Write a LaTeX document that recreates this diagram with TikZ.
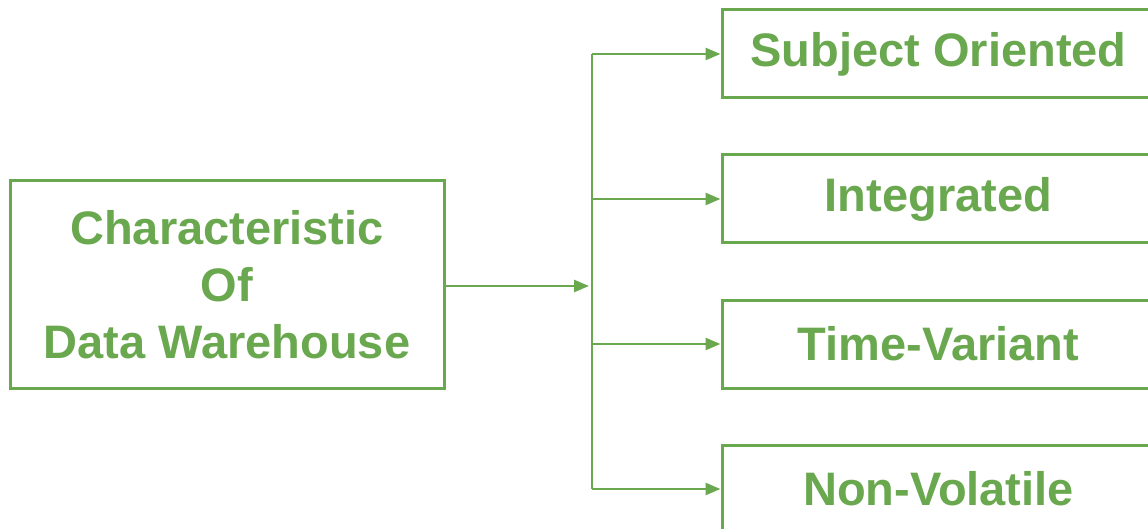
\documentclass[tikz,border=0pt]{standalone}
\usepackage{fontspec}
\setmainfont{Liberation Sans}
\usetikzlibrary{arrows.meta}
\definecolor{leafgreen}{HTML}{6AA84F}
\begin{document}
\begin{tikzpicture}[x=1pt, y=-1pt,
        box/.style = {draw=leafgreen, line width=3pt, text=leafgreen, align=center, inner sep=0pt,
                      font=\fontsize{47}{57}\selectfont\bfseries},
        trait/.style = {box, minimum width=433pt, minimum height=88pt},
        link/.style = {draw=leafgreen, line width=2.5pt, -{Triangle[length=15pt, width=12pt]}}]
    \useasboundingbox (0,0) rectangle (1148,529);
    \node[box, minimum width=434pt, minimum height=207pt] (dw) at (227,284.5)
        {Characteristic\\Of\\Data Warehouse};
    \coordinate (hub) at (592,286);
    \coordinate (bustop) at (592,54);
    \coordinate (busbottom) at (592,489);
    \draw[leafgreen, line width=2.5pt] (bustop) -- (busbottom);
    \draw[link, shorten >=3pt] (dw.east |- hub) -- (hub);
    \foreach \y/\name/\txt in {54/subj/Subject Oriented, 199/integ/Integrated,
                               344/timev/Time-Variant, 489/nonvol/Non-Volatile} {
        \node[trait] (\name) at (938.5,\y) {\txt};
        \coordinate (split-\name) at (592,\y);
        \draw[link] (split-\name) -- (\name);
    }
\end{tikzpicture}
\end{document}
